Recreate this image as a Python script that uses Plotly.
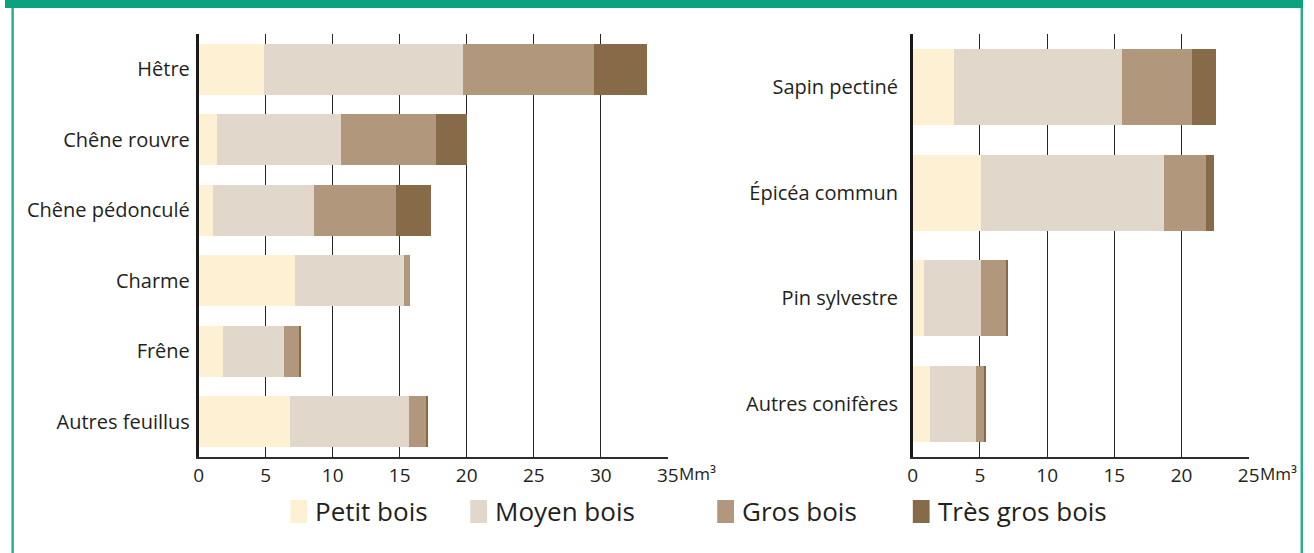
import plotly.graph_objects as go

W, H = 1314, 553

# ---- data ----
feuillus = ["Hêtre", "Chêne rouvre", "Chêne pédonculé", "Charme", "Frêne", "Autres feuillus"]
f_petit = [4.9, 1.4, 1.1, 7.2, 1.85, 6.85]
f_moyen = [14.85, 9.2, 7.5, 8.1, 4.55, 8.85]
f_gros = [9.75, 7.1, 6.15, 0.45, 1.1, 1.25]
f_tgros = [3.95, 2.3, 2.55, 0.0, 0.1, 0.15]

coniferes = ["Sapin pectiné", "Épicéa commun", "Pin sylvestre", "Autres conifères"]
c_petit = [3.1, 5.1, 0.8, 1.25]
c_moyen = [12.5, 13.6, 4.25, 3.45]
c_gros = [5.15, 3.15, 1.9, 0.6]
c_tgros = [1.85, 0.6, 0.15, 0.15]

series = ["Petit bois", "Moyen bois", "Gros bois", "Très gros bois"]
colors = ["#FEF0D2", "#E2D7CB", "#B1987D", "#876A48"]

left_ticks = [0, 5, 10, 15, 20, 25, 30, 35]
right_ticks = [0, 5, 10, 15, 20, 25]
unit = "Mm³"

FONT = "Open Sans"
TXT = "#231f20"

def px(x):
    return x / W

def py(y):
    return 1 - y / H

fig = go.Figure()
for name, col, fv, cv in zip(series, colors,
                             [f_petit, f_moyen, f_gros, f_tgros],
                             [c_petit, c_moyen, c_gros, c_tgros]):
    fig.add_trace(go.Bar(y=feuillus, x=fv, orientation="h", name=name,
                         marker=dict(color=col, line=dict(width=0)),
                         xaxis="x", yaxis="y", showlegend=False))
    fig.add_trace(go.Bar(y=coniferes, x=cv, orientation="h", name=name,
                         marker=dict(color=col, line=dict(width=0)),
                         xaxis="x2", yaxis="y2", showlegend=False))

ydom = [py(457), py(34)]
common_x = dict(showgrid=True, gridcolor="#262626", gridwidth=1.4, zeroline=False,
                showline=True, linecolor="#2e2e2e", linewidth=1.5, ticks="",
                tickfont=dict(family=FONT, size=19, color=TXT), fixedrange=True)
common_y = dict(showgrid=False, zeroline=False, showline=True, linecolor="#1a1a1a",
                linewidth=2.5, ticks="", autorange="reversed",
                tickfont=dict(family=FONT, size=20, color=TXT))

fig.update_layout(
    width=W, height=H, autosize=False,
    margin=dict(l=0, r=0, t=0, b=0),
    paper_bgcolor="white", plot_bgcolor="white",
    barmode="stack", bargap=0.28,
    xaxis=dict(domain=[px(196), px(671)], range=[0, 35], tickvals=left_ticks,
               ticktext=[str(v) for v in left_ticks], anchor="y", **common_x),
    yaxis=dict(domain=ydom, anchor="x", ticklabelstandoff=2, **common_y),
    xaxis2=dict(domain=[px(919), px(1259)], range=[0, 25], tickvals=right_ticks,
                ticktext=[str(v) for v in right_ticks], anchor="y2", **common_x),
    yaxis2=dict(domain=ydom, anchor="x2", ticklabelstandoff=8, **common_y),
    showlegend=False,
)

annotations = []
for xr, xv in [("x", 35), ("x2", 25)]:
    annotations.append(dict(xref=xr, yref="paper", x=xv, y=py(473), text=unit,
                            showarrow=False, xanchor="left", yanchor="middle",
                            xshift=9, font=dict(family=FONT, size=17, color=TXT)))

shapes = []
# green frame
shapes.append(dict(type="rect", xref="paper", yref="paper", x0=0, x1=1, y0=py(8), y1=1,
                   fillcolor="#0BA37F", line=dict(width=0), layer="above"))
shapes.append(dict(type="rect", xref="paper", yref="paper", x0=px(6.5), x1=px(9), y0=0, y1=py(8),
                   fillcolor="#27B08C", line=dict(width=0)))
shapes.append(dict(type="rect", xref="paper", yref="paper", x0=px(1311.5), x1=px(1314), y0=0, y1=py(8),
                   fillcolor="#27B08C", line=dict(width=0)))

# custom legend
leg_sw = [289, 471, 721, 919]
for x0, name, col in zip(leg_sw, series, colors):
    shapes.append(dict(type="rect", xref="paper", yref="paper",
                       x0=px(x0), x1=px(x0 + 17), y0=py(523), y1=py(500),
                       fillcolor=col, line=dict(width=0)))
    annotations.append(dict(xref="paper", yref="paper", x=px(x0 + 23), y=py(511),
                            text=name, showarrow=False, xanchor="left", yanchor="middle",
                            font=dict(family=FONT, size=26, color=TXT)))

fig.update_layout(shapes=shapes, annotations=annotations)
fig.write_html(
    "out.html",
    config={"displayModeBar": False, "responsive": False},
    post_script=("document.documentElement.style.overflow='hidden';"
                 "document.body.style.margin='0';"
                 "document.body.style.overflow='hidden';"
                 "Plotly.relayout('{plot_id}', {width: 1314, height: 553});"),
)
